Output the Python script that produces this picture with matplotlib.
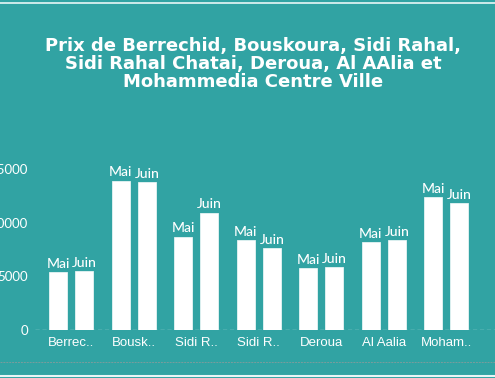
import matplotlib.pyplot as plt
import numpy as np
from matplotlib.lines import Line2D

categories = ['Berrec..', 'Bousk..', 'Sidi R..', 'Sidi R..', 'Deroua', 'Al Aalia', 'Moham..']
mai = [5370, 13900, 8690, 8380, 5745, 8190, 12380]
juin = [5520, 13780, 10920, 7610, 5870, 8380, 11830]
yticks = [0, 5000, 10000, 15000]

bg = '#31a3a3'
fig = plt.figure(figsize=(4.95, 3.78), dpi=100, facecolor=bg)
ax = fig.add_axes([35 / 495, 48 / 378, 460 / 495, 172 / 378], facecolor=bg)

x = np.arange(len(categories))
w = 0.29
off = 0.21
b1 = ax.bar(x - off, mai, w, color='white', edgecolor='#e6f4f4', linewidth=0.6, zorder=3)
b2 = ax.bar(x + off, juin, w, color='white', edgecolor='#e6f4f4', linewidth=0.6, zorder=3)

for bars, lab in [(b1, 'Mai'), (b2, 'Juin')]:
    for b in bars:
        ax.text(b.get_x() + b.get_width() / 2, b.get_height() + 200, lab,
                ha='center', va='bottom', color='white', fontsize=10,
                family='Lato', fontweight='medium', clip_on=False)

ax.set_xlim(-0.58, 6.78)
ax.set_ylim(0, 16000)
ax.set_yticks(yticks)
ax.set_yticklabels([str(v) for v in yticks], color='white', fontsize=9.5, family='Lato')
ax.set_xticks(x)
ax.set_xticklabels(categories, color='white', fontsize=9.5, family='Liberation Sans')
ax.tick_params(length=0, axis='y', pad=5)
ax.tick_params(length=0, axis='x', pad=5)
for s in ax.spines.values():
    s.set_visible(False)
ax.axhline(0, color='#a8d8d8', linestyle=(0, (3, 2)), linewidth=1, zorder=2)

fig.text(0.512, 1 - 37 / 378, 'Prix de Berrechid, Bouskoura, Sidi Rahal,\nSidi Rahal Chatai, Deroua, Al AAlia et\nMohammedia Centre Ville',
         ha='center', va='top', color='white', fontsize=13, fontweight='bold',
         family='DejaVu Sans', linespacing=1.0)

# frame lines
fig.add_artist(Line2D([0, 1], [1 - 3 / 378, 1 - 3 / 378], color='#e8f6f6', linewidth=1.2))
fig.add_artist(Line2D([0, 1], [1 - 362 / 378, 1 - 362 / 378], color='#7a9c9c', linewidth=0.7, linestyle=(0, (2, 1))))
fig.add_artist(Line2D([0, 1], [1 - 376 / 378, 1 - 376 / 378], color='#e8f6f6', linewidth=1.5))

fig.savefig('out.png', dpi=100, facecolor=bg)
